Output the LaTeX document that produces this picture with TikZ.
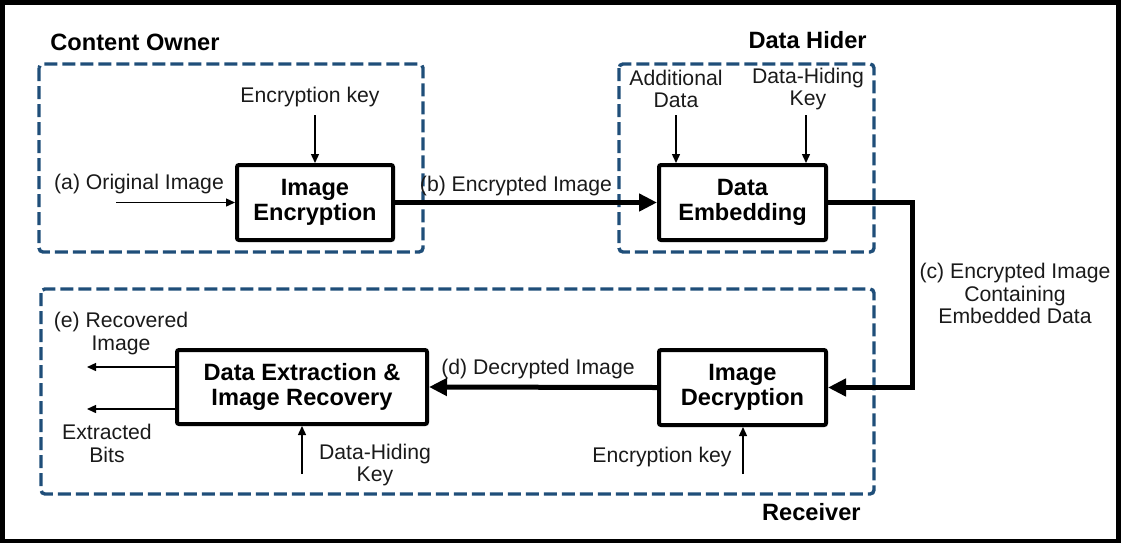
\documentclass[tikz,border=0pt]{standalone}
\usepackage{fontspec}
\setmainfont{Liberation Sans}
\usetikzlibrary{arrows.meta,shadows}
\definecolor{dashblue}{HTML}{1F4E79}
\definecolor{txt}{HTML}{1A1A1A}
\begin{document}
\begin{tikzpicture}[x=0.5pt,y=-0.5pt,
 procbox/.style={draw=black,line width=2pt,fill=white,rounded corners=1pt,align=center,
   font=\fontsize{11.8}{12.5}\selectfont\bfseries,inner sep=0pt,
   drop shadow={opacity=0.25,shadow xshift=1pt,shadow yshift=-1pt}},
 region/.style={draw=dashblue,line width=1.7pt,dash pattern=on 6.5pt off 2.5pt,rounded corners=2pt},
 lbl/.style={font=\fontsize{10.6}{11.2}\selectfont,align=center,text=txt,inner sep=0pt},
 ttl/.style={font=\fontsize{11.8}{13}\selectfont\bfseries,inner sep=0pt},
 thinarrow/.style={-{Triangle[length=4.5pt,width=4pt]},line width=0.7pt},
 thickarrow/.style={-{Triangle[length=9pt,width=8.5pt]},line width=2.5pt},
]
\useasboundingbox (0,0) rectangle (1121,543);
% outer frame
\draw[line width=2.25pt] (2.5,2.5) rectangle (1118.5,541);

% regions
\draw[region] (39,64) rectangle (423,252);
\draw[region] (619,64) rectangle (874,252);
\draw[region] (41,289) rectangle (874,494);

% titles
\node[ttl,anchor=west] (tco) at (50,42) {Content Owner};
\node[ttl,anchor=east] (tdh) at (867,40) {Data Hider};
\node[ttl,anchor=east] (trc) at (861,512) {Receiver};

% process boxes
\node[procbox,minimum width=78pt,minimum height=37.5pt] (enc) at (315,202.5) {Image\\Encryption};
\node[procbox,minimum width=83.5pt,minimum height=37.5pt] (emb) at (742.5,202.5) {Data\\Embedding};
\node[procbox,minimum width=83.5pt,minimum height=37.5pt] (dec) at (742.5,387.5) {Image\\Decryption};
\node[procbox,minimum width=125pt,minimum height=37pt] (ext) at (302,387) {Data Extraction \&\\Image Recovery};

% labels
\node[lbl] (lek1) at (310,97) {Encryption key};
\node[lbl] (lorig) at (139,184) {(a) Original Image};
\node[lbl] (lbenc) at (516,186) {(b) Encrypted Image};
\node[lbl] (ladd) at (676,89) {Additional\\Data};
\node[lbl] (ldhk1) at (808,89) {Data-Hiding\\Key};
\node[lbl] (lc) at (1015,293.5) {(c) Encrypted Image\\Containing\\Embedded Data};
\node[lbl] (ld) at (538,369) {(d) Decrypted Image};
\node[lbl] (lrec) at (121,333.5) {(e) Recovered\\Image};
\node[lbl] (lbits) at (107,443.5) {Extracted\\Bits};
\node[lbl] (ldhk2) at (375,465) {Data-Hiding\\Key};
\node[lbl] (lek2) at (662,457) {Encryption key};

% coordinates for free ends
\coordinate (aorig) at (116,202.5);
\coordinate (aek1) at (315,115);
\coordinate (aadd) at (676,115);
\coordinate (adhk1) at (806,115);
\coordinate (arec) at (87,367);
\coordinate (abits) at (87,409);
\coordinate (adhk2) at (302,474);
\coordinate (aek2) at (743,474);

% thin arrows
\draw[thinarrow] (aorig) -- (enc.west);
\draw[thinarrow] (aek1) -- (enc.north);
\draw[thinarrow] (aadd) -- (aadd |- emb.north);
\draw[thinarrow] (adhk1) -- (adhk1 |- emb.north);
\draw[thinarrow] (ext.west |- arec) -- (arec);
\draw[thinarrow] (ext.west |- abits) -- (abits);
\draw[thinarrow] (adhk2) -- (ext.south);
\draw[thinarrow] (aek2) -- (aek2 |- dec.south);

% thick arrows
\draw[thickarrow] (enc.east) -- (emb.west);
\draw[thickarrow] (emb.east) -- ++(84,0) |- (dec.east);
\draw[thickarrow] (dec.west) -- (ext.east);
\end{tikzpicture}
\end{document}
